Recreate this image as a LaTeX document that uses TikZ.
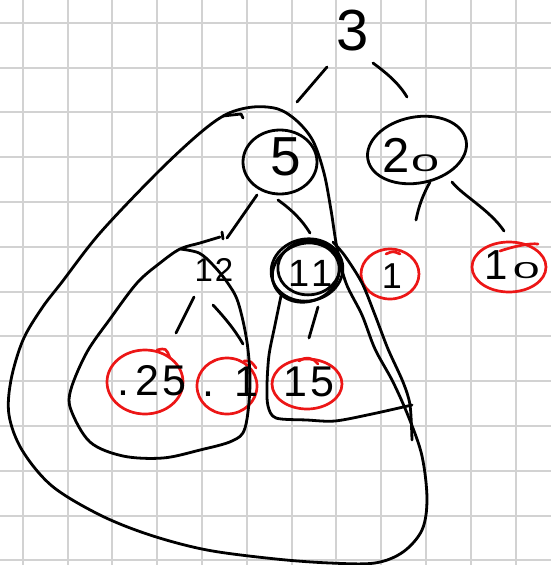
\documentclass[tikz,border=0pt]{standalone}
\usepackage{fontspec}
\setmainfont{Liberation Sans}
\usetikzlibrary{shapes.geometric,calc}
\definecolor{gridgray}{RGB}{210,210,210}
\definecolor{redpen}{RGB}{236,22,22}
\begin{document}
\begin{tikzpicture}[x=1pt,y=-1pt,
  gridline/.style={draw=gridgray, line width=2.0pt},
  ink/.style={draw=black, line width=2.8pt, line cap=round, line join=round},
  redink/.style={draw=redpen, line width=2.7pt, line cap=round, line join=round},
  txt/.style={inner sep=0pt, font=\fontsize{#1}{#1}\selectfont},
  bcirc/.style 2 args={ellipse, ink, minimum width=#1, minimum height=#2, inner sep=0pt},
  rcirc/.style 2 args={ellipse, redink, minimum width=#1, minimum height=#2, inner sep=0pt}]
\useasboundingbox (0,0) rectangle (551,565);
% grid paper
\foreach \k in {0,...,12} {
  \draw[gridline] ({22.7+44.8*\k},-5) -- ({22.7+44.8*\k},570);
  \draw[gridline] (-5,{22.7+44.8*\k}) -- (556,{22.7+44.8*\k});
}
% ---- nodes ----
\node[txt=58] (n3) at (353,31) {3};
\node[bcirc={74pt}{64pt}] (n5) at (280,162) {};
\node[txt=55] (t5) at (286,157) {5};
\node[ellipse, minimum width=100pt, minimum height=66pt, inner sep=0pt] (n20) at (417,150) {};
\draw[ink, rotate around={11:(n20.center)}] (n20.center) ellipse (50pt and 33pt);
\node[txt=49] (t20) at (411,155) {2\hspace{1pt}\raisebox{1pt}{\scalebox{2.1}[1]{\fontsize{24}{24}\selectfont 0}}};
\node[bcirc={72pt}{62pt}, rotate=10] (n11) at (307,270) {};
\draw[ink, rotate around={5:(n11.center)}] ($(n11.center)+(2,-2)$) ellipse (31pt and 27pt);
\draw[ink, rotate around={20:(n11.center)}] ($(n11.center)+(-2,2)$) ellipse (34pt and 29pt);
\node[txt=38] (t11) at (311,273) {1\hspace{2pt}1};
\node[txt=33] (t12) at (214,270) {1\hspace{2pt}2};
\node[rcirc={58pt}{50pt}] (n1) at (390,274) {};
\node[txt=36] (t1) at (392,276) {1};
\node[rcirc={74pt}{50pt}] (n10) at (509,267) {};
\node[txt=42] (t10) at (512,265) {1\hspace{5pt}\raisebox{1pt}{\scalebox{2.1}[1]{\fontsize{23}{23}\selectfont 0}}};
\node[rcirc={76pt}{64pt}] (n25) at (145,382) {};
\node[txt=43] (t25) at (152,381) {.\hspace{6pt}2\hspace{4pt}5};
\node[rcirc={60pt}{56pt}] (n01) at (227,386) {};
\node[txt=43] (t01) at (230,382) {.\hspace{20pt}1};
\node[rcirc={70pt}{50pt}] (n15) at (307,384) {};
\node[txt=43] (t15) at (309,382) {1\hspace{4pt}5};
% red overshoot tails
\draw[redink] (157,350) .. controls (166,348) .. (170,358);
\draw[redink] (500,251) .. controls (515,246) and (530,243) .. (538,244);
\draw[redink] (299,361) .. controls (306,356) and (314,358) .. (318,364);
\draw[redink] (244,361) .. controls (251,361) .. (256,368);
\draw[redink] (386,254) .. controls (393,251) .. (400,254);
% ---- connectors (hand strokes) ----
\coordinate (a1) at (327,67);  \coordinate (b1) at (297,102);
\coordinate (a2) at (373,63);  \coordinate (b2) at (407,97);
\coordinate (a3) at (257,195); \coordinate (b3) at (227,238);
\coordinate (a4) at (278,200); \coordinate (b4) at (310,233);
\coordinate (a5) at (430,182); \coordinate (b5) at (416,220);
\coordinate (a6) at (452,182); \coordinate (b6) at (504,231);
\coordinate (a7) at (194,297); \coordinate (b7) at (176,333);
\coordinate (a8) at (213,305); \coordinate (b8) at (243,344);
\coordinate (a9) at (318,307); \coordinate (b9) at (309,338);
\draw[ink] (a1) -- (b1);
\draw[ink] (a2) .. controls (385,72) and (398,82) .. (b2);
\draw[ink] (a3) -- (b3);
\draw[ink] (222,232) -- (223,239);
\draw[ink] (a4) .. controls (292,210) and (302,220) .. (b4);
\draw[ink] (a5) .. controls (423,195) and (419,205) .. (b5);
\draw[ink] (a6) .. controls (462,195) and (490,210) .. (b6);
\draw[ink] (a7) -- (b7);
\draw[ink] (a8) .. controls (225,318) and (235,330) .. (b8);
\draw[ink] (a9) -- (b9);
% ---- big loop around subtree of 5 ----
\draw[ink] plot[smooth cycle, tension=0.55] coordinates {
 (227,114) (253,107) (278,109) (297,121) (313,141) (324,173) (331,210) (337,248)
 (346,283) (362,315) (375,349) (393,382) (409,418) (422,456) (427,499) (422,530)
 (403,552) (375,563) (330,563) (276,559) (207,550) (150,535) (100,515) (52,486)
 (22,450) (9,415) (11,380) (23,340) (42,308) (62,282) (100,233) (157,173) (200,133)};
\draw[ink] (223,116) -- (241,114) -- (243,118);
% ---- loop around subtree of 12 ----
\draw[ink] plot[smooth, tension=0.55] coordinates {
 (220,237) (200,243) (180,249) (160,263) (137,283) (110,319) (87,352) (71,389)
 (71,410) (90,442) (123,456) (163,458) (200,450) (232,441) (245,428) (250,385)
 (247,342) (238,302) (227,282) (213,265) (199,253) (180,249)};
% ---- loop around subtree of 11 ----
\draw[ink] plot[smooth, tension=0.5] coordinates {
 (281,296) (275,325) (269,355) (267,385) (268,406) (276,418) (307,420) (335,421)
 (372,414) (412,405)};
\draw[ink] plot[smooth, tension=0.5] coordinates {
 (333,242) (345,256) (362,283) (375,315) (388,349) (403,382) (410,405) (412,440)};
\end{tikzpicture}
\end{document}
